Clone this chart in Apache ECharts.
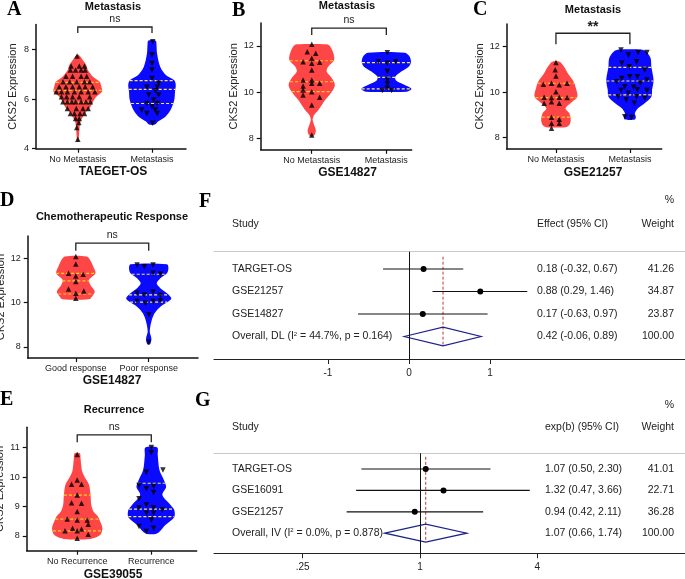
<!DOCTYPE html>
<html>
<head>
<meta charset="utf-8">
<script src="https://cdn.jsdelivr.net/npm/echarts@6/dist/echarts.min.js"></script>
<style>
  html, body { margin: 0; padding: 0; background: #fff; }
  #chart { width: 685px; height: 579px; }
</style>
</head>
<body>
<div id="chart"></div>
<script>
// ---- A: TARGET-OS, metastasis ----
const aCats = ['No Metastasis', 'Metastasis'];
// violin outlines: [expression, half width in category units]
const aRedShape = [[4.28,0.01],[4.42,0.014],[4.82,0.023],[5.09,0.036],[5.29,0.068],[5.49,0.114],[5.69,0.173],[5.89,0.205],[6.09,0.25],[6.29,0.327],[6.49,0.318],[6.70,0.295],[6.90,0.205],[7.17,0.136],[7.37,0.114],[7.57,0.068],[7.77,0.014]];
const aBlueShape = [[4.97,0.04],[5.09,0.08],[5.29,0.18],[5.56,0.25],[5.96,0.3],[6.3,0.31],[6.56,0.32],[6.76,0.3],[6.96,0.19],[7.3,0.11],[7.83,0.068],[8.2,0.06],[8.35,0.05]];
const aRedQuart = [5.87, 6.35, 6.67];
const aBlueQuart = [5.82, 6.39, 6.74];
// points: [offset from category, expression]
const aRedPts = [[0,4.38],[-0.014,4.85],[0.014,5.05],[-0.03,5.22],[0.02,5.22],
  [-0.1,5.42],[-0.045,5.42],[0.03,5.42],[0.09,5.42],
  [-0.14,5.62],[-0.02,5.62],[0.07,5.62],[0.14,5.62],
  [-0.2,5.89],[-0.14,5.89],[-0.08,5.89],[-0.03,5.89],[0.045,5.89],[0.11,5.89],[0.17,5.89],
  [-0.22,6.09],[-0.15,6.09],[-0.07,6.09],[0.02,6.09],[0.16,6.09],
  [-0.29,6.29],[-0.22,6.29],[-0.14,6.29],[-0.045,6.29],[0.045,6.29],[0.14,6.29],[0.23,6.29],
  [-0.25,6.49],[-0.16,6.49],[-0.07,6.49],[0.02,6.49],[0.1,6.49],[0.2,6.49],
  [-0.2,6.7],[-0.11,6.7],[-0.014,6.7],[0.09,6.7],[0.16,6.7],
  [-0.16,6.92],[-0.07,6.92],[0.045,6.92],[0.12,6.92],
  [-0.1,7.17],[-0.03,7.17],[0.045,7.17],[0.1,7.17],
  [-0.09,7.33],[0.02,7.33],[0.09,7.33],[-0.01,7.73]];
const aBluePts = [[0.01,8.31],[0,7.77],[0,7.43],[0,7.17],[0,6.83],[0.09,6.63],[-0.07,6.47],[0.07,6.47],[0.045,6.33],[-0.045,6.16],[0.09,6.16],[0.02,5.96],[-0.07,5.82],[0.07,5.82],[0,5.69],[-0.14,5.56],[0.045,5.56],[-0.07,5.42],[0.07,5.42],[0.01,5.02]];
const aBracket = [8.66, 8.9];

// ---- B: GSE14827, metastasis ----
const bCats = ['No Metastasis', 'Metastasis'];
const bRedShape = [[8.07,0.01],[8.15,0.04],[8.35,0.055],[8.6,0.03],[8.8,0.012],[9.0,0.03],[9.23,0.09],[9.66,0.18],[10.02,0.27],[10.31,0.31],[10.6,0.27],[10.89,0.2],[11.1,0.22],[11.39,0.3],[11.68,0.29],[11.97,0.25],[12.07,0.2]];
const bBlueShape = [[10.02,0.27],[10.1,0.33],[10.17,0.33],[10.35,0.22],[10.5,0.13],[10.67,0.12],[10.89,0.2],[11.1,0.3],[11.3,0.33],[11.55,0.31],[11.71,0.25]];
const bRedQuart = [10.02, 10.45, 11.36];
const bBlueQuart = [10.14, 10.64, 11.28];
const bRedPts = [[0,12.07],[-0.06,11.75],[0.054,11.68],[0,11.47],[-0.116,11.32],[0.107,11.29],[0,11.25],[0,10.96],[-0.116,10.52],[0,10.52],[-0.116,10.27],[0,10.38],[0.107,10.38],[-0.116,10.09],[0,10.02],[-0.116,9.88],[0.107,9.78],[0,9.44],[0,8.14]];
const bBluePts = [[0.013,11.71],[-0.107,11.32],[0.013,11.25],[0.125,11.32],[0.013,10.89],[0.013,10.53],[0.013,10.35],[0.013,10.17],[-0.054,10.07],[0.07,10.07]];
const bBracket = [12.48, 12.77];

// ---- C: GSE21257, metastasis ----
const cCats = ['No Metastasis', 'Metastasis'];
const cRedShape = [[8.46,0.13],[8.56,0.18],[8.78,0.2],[9.07,0.18],[9.29,0.13],[9.58,0.22],[9.8,0.29],[10.17,0.27],[10.46,0.24],[10.83,0.16],[11.12,0.11],[11.34,0.05]];
const cBlueShape = [[8.8,0.067],[8.92,0.08],[9.07,0.067],[9.29,0.11],[9.51,0.2],[9.8,0.29],[10.1,0.3],[10.53,0.32],[11.12,0.29],[11.49,0.28],[11.78,0.22],[11.87,0.15]];
const cRedQuart = [8.9, 9.76, 10.39];
const cBlueQuart = [9.88, 10.49, 11.09];
const cRedPts = [[0,11.3],[-0.01,10.98],[0,10.71],[-0.06,10.39],[-0.17,10.35],[0.045,10.32],[0.15,10.39],[0,10.02],[-0.16,9.78],[-0.06,9.76],[0.045,9.78],[0.15,9.76],[-0.16,9.51],[-0.06,9.58],[0.045,9.51],[-0.06,8.9],[0.045,8.81],[-0.06,8.63],[0.045,8.63],[-0.06,8.41]];
const cBluePts = [[-0.12,11.85],[0.11,11.74],[0.23,11.74],[-0.02,11.63],[0.09,11.34],[-0.11,11.27],[-0.01,11.12],[0.2,10.97],[-0.11,10.6],[0,10.68],[0.1,10.68],[0.23,10.53],[-0.18,10.46],[0.14,10.39],[-0.07,10.24],[0.05,10.21],[0.23,10.07],[-0.12,10.07],[-0.02,9.95],[0.1,10.1],[-0.16,9.8],[0.09,9.8],[0.2,9.73],[-0.05,9.66],[0.06,9.51],[-0.07,8.92],[0.02,8.89]];
const cBracket = [12.1, 12.59];

// ---- D: GSE14827, chemotherapeutic response ----
const dCats = ['Good response', 'Poor response'];
const dRedShape = [[10.15,0.18],[10.27,0.22],[10.5,0.26],[10.8,0.2],[11.02,0.18],[11.32,0.27],[11.62,0.24],[11.9,0.2],[12.08,0.15]];
const dBlueShape = [[8.12,0.02],[8.39,0.036],[8.69,0.014],[9.14,0.036],[9.52,0.08],[9.82,0.16],[10.05,0.27],[10.2,0.31],[10.42,0.25],[10.65,0.16],[10.87,0.11],[11.1,0.16],[11.32,0.25],[11.55,0.27],[11.73,0.25]];
const dRedQuart = [10.39, 10.98, 11.32];
const dBlueQuart = [10.02, 10.35, 11.28];
const dRedPts = [[0,12.08],[0,11.74],[-0.1,11.32],[0.1,11.28],[0,11.2],[0,10.95],[-0.1,10.62],[0.11,10.52],[0,10.42],[0,10.2]];
const dBluePts = [[-0.16,11.7],[-0.06,11.62],[0.06,11.7],[0.06,11.32],[0.16,11.28],[-0.16,10.42],[-0.06,10.35],[0.06,10.47],[0.16,10.32],[-0.16,10.05],[-0.045,9.97],[0.06,10.05],[0.16,10.08],[0,9.44],[0,8.21]];
const dBracket = [12.34, 12.68];

// ---- E: GSE39055, recurrence ----
const eCats = ['No Recurrence', 'Recurrence'];
const eRedShape = [[7.9,0.18],[8.03,0.31],[8.26,0.34],[8.49,0.31],[8.66,0.28],[8.83,0.22],[9.05,0.19],[9.39,0.18],[9.73,0.16],[9.96,0.11],[10.19,0.067],[10.41,0.054],[10.64,0.045],[10.81,0.036]];
const eBlueShape = [[8.07,0.06],[8.14,0.11],[8.37,0.19],[8.64,0.31],[8.88,0.31],[9.05,0.26],[9.39,0.15],[9.66,0.2],[9.9,0.17],[10.24,0.11],[10.75,0.087],[11.0,0.08]];
const eRedQuart = [8.17, 8.57, 9.39];
const eBlueQuart = [8.66, 8.91, 9.79];
const eRedPts = [[0,10.77],[0,9.9],[-0.076,9.76],[0.058,9.76],[0,9.39],[-0.076,9.13],[0.058,9.11],[0,8.83],[-0.135,8.58],[0,8.54],[0.135,8.54],[-0.063,8.26],[0.058,8.24],[0.148,8.4],[-0.166,8.18],[0,8.18],[0.148,8.06],[0,7.92]];
const eBluePts = [[0,11.0],[0,10.83],[-0.067,10.16],[0.157,10.24],[-0.166,9.71],[-0.067,9.6],[0.031,9.68],[0.031,9.48],[-0.166,9.26],[-0.067,9.05],[-0.166,8.96],[0.031,8.96],[0.148,8.88],[-0.067,8.77],[0.031,8.77],[0,8.54],[-0.166,8.32],[0.031,8.26],[-0.067,8.15]];
const eBracket = [11.18, 11.43];

// ---- F: meta-analysis, metastasis (DL) ----
const fStudies = ['TARGET-OS', 'GSE21257', 'GSE14827'];
const fEst = [0.18, 0.88, 0.17];
const fLo = [-0.32, 0.29, -0.63];
const fHi = [0.67, 1.46, 0.97];
const fWeight = [41.26, 34.87, 23.87];
const fOverall = [0.42, -0.06, 0.89];
const fI2 = 44.7, fP = 0.164;
const fTicks = [-1, 0, 1];

// ---- G: meta-analysis, survival (IV) ----
const gStudies = ['TARGET-OS', 'GSE16091', 'GSE21257'];
const gEst = [1.07, 1.32, 0.94];
const gLo = [0.50, 0.47, 0.42];
const gHi = [2.30, 3.66, 2.11];
const gWeight = [41.01, 22.71, 36.28];
const gOverall = [1.07, 0.66, 1.74];
const gI2 = 0.0, gP = 0.878;
const gTicks = [0.25, 1, 4];

const SANS = 'Liberation Sans, Arial, sans-serif';
const RED = '#ff4646';
const BLUE = '#0a0aff';

const grids = [], xAxes = [], yAxes = [], series = [], graphics = [];

function widthAt(shape, v) {
    if (v <= shape[0][0]) return shape[0][1];
    for (let i = 1; i < shape.length; i++) {
        if (v <= shape[i][0]) {
            const t = (v - shape[i - 1][0]) / (shape[i][0] - shape[i - 1][0]);
            return shape[i - 1][1] + t * (shape[i][1] - shape[i - 1][1]);
        }
    }
    return shape[shape.length - 1][1];
}

function violinPanel(p) {
    const idx = grids.length;
    grids.push({left: p.box[0], top: p.box[1], width: p.box[2], height: p.box[3], outerBoundsMode: 'none'});
    xAxes.push({
        type: 'value', gridIndex: idx, min: p.xr[0], max: p.xr[1],
        axisLine: {onZero: false, lineStyle: {color: '#111', width: 1.5}},
        axisTick: {show: true, customValues: [1, 2], length: 4, lineStyle: {color: '#111', width: 1.2}},
        axisLabel: {customValues: [1, 2], formatter: v => p.cats[Math.round(v) - 1], fontSize: 9, color: '#222', margin: 6, fontFamily: SANS},
        splitLine: {show: false}
    });
    yAxes.push({
        type: 'value', gridIndex: idx, min: p.yr[0], max: p.yr[1],
        name: 'CKS2 Expression', nameLocation: 'middle', nameGap: p.nameGap,
        nameTextStyle: {fontSize: 11, color: '#222', fontFamily: SANS},
        axisLine: {show: true, onZero: false, lineStyle: {color: '#111', width: 1.5}},
        axisTick: {show: true, customValues: p.yTicks, length: 4, lineStyle: {color: '#111', width: 1.2}},
        axisLabel: {customValues: p.yTicks, fontSize: 9, color: '#222', margin: 7, fontFamily: SANS},
        splitLine: {show: false}
    });
    const colors = [RED, BLUE];
    const dashColors = ['#ffcf1f', '#ffe95c'];
    series.push({
        type: 'custom', xAxisIndex: idx, yAxisIndex: idx, z: 1, silent: true,
        data: [[1, p.shapes[0][0][0]], [2, p.shapes[1][0][0]]],
        renderItem: function (params, api) {
            const i = params.dataIndex;
            const cat = i + 1;
            const shape = p.shapes[i];
            const right = shape.map(d => api.coord([cat + d[1], d[0]]));
            const left = shape.slice().reverse().map(d => api.coord([cat - d[1], d[0]]));
            const children = [{
                type: 'polygon',
                shape: {points: right.concat(left), smooth: 0.3},
                style: {fill: colors[i]}
            }];
            p.quarts[i].forEach(q => {
                const hw = widthAt(shape, q);
                const a = api.coord([cat - hw, q]);
                const b = api.coord([cat + hw, q]);
                children.push({
                    type: 'line',
                    shape: {x1: a[0], y1: a[1], x2: b[0], y2: b[1]},
                    style: {stroke: dashColors[i], lineWidth: 1.2, lineDash: [3, 2]}
                });
            });
            return {type: 'group', children: children};
        }
    });
    [0, 1].forEach(i => {
        series.push({
            type: 'scatter', xAxisIndex: idx, yAxisIndex: idx, z: 3, silent: true,
            symbol: 'triangle', symbolSize: 5.5, symbolRotate: i ? 180 : 0,
            itemStyle: {color: '#000'},
            data: p.pts[i].map(d => [i + 1 + d[0], d[1]])
        });
    });
    series.push({
        type: 'custom', xAxisIndex: idx, yAxisIndex: idx, z: 4, silent: true,
        data: [[1, 2, p.bracket[0], p.bracket[1]]],
        encode: {x: [0, 1], y: [2, 3]},
        renderItem: function (params, api) {
            const a = api.coord([api.value(0), api.value(2)]);
            const b = api.coord([api.value(0), api.value(3)]);
            const c = api.coord([api.value(1), api.value(3)]);
            const d = api.coord([api.value(1), api.value(2)]);
            const bold = p.sig !== 'ns';
            return {type: 'group', children: [
                {type: 'polyline', shape: {points: [a, b, c, d]}, style: {stroke: '#222', lineWidth: 1.3, fill: null}},
                {type: 'text', x: (b[0] + c[0]) / 2, y: b[1] - (bold ? 6 : 8),
                 style: {text: p.sig, fontSize: bold ? 14 : 10.5, fontWeight: bold ? 'bold' : 'normal', fontFamily: SANS, fill: '#222', align: 'center', verticalAlign: 'middle'}}
            ]};
        }
    });
    graphics.push({type: 'text', x: p.title[1], y: p.title[2],
        style: {text: p.title[0], font: 'bold 11px ' + SANS, fill: '#111', align: 'center', verticalAlign: 'middle'}});
    graphics.push({type: 'text', x: p.setName[1], y: p.setName[2],
        style: {text: p.setName[0], font: 'bold 12px ' + SANS, fill: '#111', align: 'center', verticalAlign: 'middle'}});
}

violinPanel({box: [36, 24.5, 150, 124.2], xr: [0.437, 2.458], yr: [4, 9], yTicks: [4, 6, 8], nameGap: 18,
    cats: aCats, shapes: [aRedShape, aBlueShape], quarts: [aRedQuart, aBlueQuart], pts: [aRedPts, aBluePts],
    bracket: aBracket, sig: 'ns', title: ['Metastasis', 113, 7], setName: ['TAEGET-OS', 113, 172]});
violinPanel({box: [260.7, 22.9, 151, 126.9], xr: [0.316, 2.34], yr: [7.5, 13], yTicks: [8, 10, 12], nameGap: 17.5,
    cats: bCats, shapes: [bRedShape, bBlueShape], quarts: [bRedQuart, bBlueQuart], pts: [bRedPts, bBluePts],
    bracket: bBracket, sig: 'ns', title: ['Metastasis', 347, 5.5], setName: ['GSE14827', 347.5, 172.7]});
violinPanel({box: [506.7, 23.9, 155, 125.1], xr: [0.334, 2.43], yr: [7.5, 13], yTicks: [8, 10, 12], nameGap: 16,
    cats: cCats, shapes: [cRedShape, cBlueShape], quarts: [cRedQuart, cBlueQuart], pts: [cRedPts, cBluePts],
    bracket: cBracket, sig: '**', title: ['Metastasis', 593, 10], setName: ['GSE21257', 593, 173]});
violinPanel({box: [27.7, 236.1, 170.3, 122], xr: [0.34, 2.676], yr: [7.5, 13], yTicks: [8, 10, 12], nameGap: 15.5,
    cats: dCats, shapes: [dRedShape, dBlueShape], quarts: [dRedQuart, dBlueQuart], pts: [dRedPts, dBluePts],
    bracket: dBracket, sig: 'ns', title: ['Chemotherapeutic Response', 112, 217.3], setName: ['GSE14827', 112, 381]});
violinPanel({box: [26.7, 427.3, 170, 123.4], xr: [0.318, 2.613], yr: [7.5, 11.69], yTicks: [8, 9, 10, 11], nameGap: 14.5,
    cats: eCats, shapes: [eRedShape, eBlueShape], quarts: [eRedQuart, eBlueQuart], pts: [eRedPts, eBluePts],
    bracket: eBracket, sig: 'ns', title: ['Recurrence', 114, 410], setName: ['GSE39055', 113, 575]});

function fmt(e, l, h) {
    return e.toFixed(2) + ' (' + l.toFixed(2) + ', ' + h.toFixed(2) + ')';
}

function forestPanel(f) {
    const gi = grids.length;
    const xi = xAxes.length;
    const yi = yAxes.length;
    grids.push({left: f.box[0], top: f.box[1], width: f.box[2], height: f.box[3], outerBoundsMode: 'none'});
    xAxes.push({
        type: f.log ? 'log' : 'value', logBase: 4, gridIndex: gi, min: f.xr[0], max: f.xr[1], position: 'bottom',
        axisLine: {onZero: false, lineStyle: {color: '#222', width: 1}},
        axisTick: {show: true, customValues: f.ticks, length: 5, lineStyle: {color: '#222'}},
        axisLabel: {customValues: f.ticks, formatter: f.tickFmt, fontSize: 10, color: '#222', margin: 9, fontFamily: SANS},
        splitLine: {show: false}, minorTick: {show: false}
    });
    xAxes.push({
        type: 'value', gridIndex: gi, min: 0, max: 1, position: 'top',
        axisLine: {onZero: false, lineStyle: {color: '#c8c8c8', width: 1}},
        axisTick: {show: false}, axisLabel: {show: false}, splitLine: {show: false}
    });
    yAxes.push({type: 'value', gridIndex: gi, inverse: true, min: f.yr[0], max: f.yr[1], show: false, splitLine: {show: false}});

    const rows = f.est.map((e, i) => [e, i + 1, f.lo[i], f.hi[i]]);
    const nRows = rows.length;
    series.push({
        type: 'custom', xAxisIndex: xi, yAxisIndex: yi, z: 3, silent: true,
        data: rows, encode: {x: [0, 2, 3], y: 1},
        renderItem: function (params, api) {
            const row = api.value(1);
            const a = api.coord([api.value(2), row]);
            const b = api.coord([api.value(3), row]);
            const c = api.coord([api.value(0), row]);
            return {type: 'group', children: [
                {type: 'line', shape: {x1: a[0], y1: a[1], x2: b[0], y2: b[1]}, style: {stroke: '#111', lineWidth: 1.2}},
                {type: 'circle', shape: {cx: c[0], cy: c[1], r: 3}, style: {fill: '#000'}}
            ]};
        },
        markLine: {
            silent: true, symbol: 'none', label: {show: false},
            lineStyle: {color: '#111', type: 'solid', width: 1},
            data: [{xAxis: f.nullLine}]
        }
    });
    series.push({
        type: 'line', xAxisIndex: xi, yAxisIndex: yi, z: 2, silent: true, symbol: 'none',
        lineStyle: {color: '#c0392b', width: 1, type: [3, 2]},
        data: [[f.overall[0], f.refSpan[0]], [f.overall[0], f.refSpan[1]]]
    });
    series.push({
        type: 'custom', xAxisIndex: xi, yAxisIndex: yi, z: 4, silent: true,
        data: [[f.overall[0], nRows + 1, f.overall[1], f.overall[2]]], encode: {x: [0, 2, 3], y: 1},
        renderItem: function (params, api) {
            const row = api.value(1);
            const pts = [
                api.coord([api.value(2), row]),
                api.coord([api.value(0), row - 0.42]),
                api.coord([api.value(3), row]),
                api.coord([api.value(0), row + 0.42])
            ];
            return {type: 'polygon', shape: {points: pts}, style: {fill: 'none', stroke: '#1c2388', lineWidth: 1.2}};
        }
    });
    const names = f.studies.concat([f.overallName]);
    const effects = f.est.map((e, i) => fmt(e, f.lo[i], f.hi[i])).concat([fmt(f.overall[0], f.overall[1], f.overall[2])]);
    const weights = f.weight.concat([100]).map(w => w.toFixed(2));
    series.push({
        type: 'custom', xAxisIndex: xi, yAxisIndex: yi, z: 5, silent: true,
        data: names.map((n, i) => [f.nullLine, i + 1]),
        renderItem: function (params, api) {
            const i = params.dataIndex;
            const y = api.coord([api.value(0), api.value(1)])[1];
            const base = {fontSize: 10.5, fontFamily: SANS, fill: '#222', verticalAlign: 'middle'};
            return {type: 'group', children: [
                {type: 'text', x: f.cols[0], y: y, style: Object.assign({text: names[i], align: 'left',
                    rich: {s: {fontSize: 6, fontFamily: SANS, fill: '#222', verticalAlign: 'top'}}}, base)},
                {type: 'text', x: f.cols[1], y: y, style: Object.assign({text: effects[i], align: 'left'}, base)},
                {type: 'text', x: f.cols[2], y: y, style: Object.assign({text: weights[i], align: 'right'}, base)}
            ]};
        }
    });
    const head = {fontSize: 10.5, fontFamily: SANS, fill: '#222', verticalAlign: 'middle'};
    graphics.push({type: 'text', x: f.cols[2], y: f.headY[0], style: Object.assign({text: '%', align: 'right'}, head)});
    graphics.push({type: 'text', x: f.cols[0], y: f.headY[1], style: Object.assign({text: 'Study', align: 'left'}, head)});
    graphics.push({type: 'text', x: f.cols[1], y: f.headY[1], style: Object.assign({text: f.effectHead, align: 'left'}, head)});
    graphics.push({type: 'text', x: f.cols[2], y: f.headY[1], style: Object.assign({text: 'Weight', align: 'right'}, head)});
}

forestPanel({box: [214, 251.7, 471, 107.3], xr: [-2.407, 3.407], yr: [0.23, 5], log: false,
    ticks: fTicks, tickFmt: v => String(v), nullLine: 0, refSpan: [0.45, 4.42],
    studies: fStudies, est: fEst, lo: fLo, hi: fHi, weight: fWeight, overall: fOverall,
    overallName: 'Overall, DL (I{s|2} = ' + fI2.toFixed(1) + '%, p = ' + fP.toFixed(3) + ')',
    cols: [232, 537, 674], headY: [200, 224], effectHead: 'Effect (95% CI)'});
forestPanel({box: [214, 453.3, 471, 100], xr: [0.0876, 22.93], yr: [0.266, 4.94], log: true,
    ticks: gTicks, tickFmt: v => (v < 1 ? String(v).replace(/^0/, '') : String(v)), nullLine: 1, refSpan: [0.43, 4.41],
    studies: gStudies, est: gEst, lo: gLo, hi: gHi, weight: gWeight, overall: gOverall,
    overallName: 'Overall, IV (I{s|2} = ' + gI2.toFixed(1) + '%, p = ' + gP.toFixed(3) + ')',
    cols: [232, 545, 674], headY: [405, 427], effectHead: 'exp(b) (95% CI)'});

// panel letters
[['A', 7, 10], ['B', 232, 10.5], ['C', 473, 10], ['D', 0, 200.8], ['E', 0, 400], ['F', 199, 201.7], ['G', 195, 401]].forEach(l => {
    graphics.push({type: 'text', x: l[1], y: l[2],
        style: {text: l[0], font: 'bold 20px Liberation Serif, Times New Roman, serif', fill: '#000', align: 'left', verticalAlign: 'middle'}});
});

const chart = echarts.init(document.getElementById('chart'));
chart.setOption({
    backgroundColor: '#ffffff',
    animation: false,
    grid: grids,
    xAxis: xAxes,
    yAxis: yAxes,
    series: series,
    graphic: graphics
});
window.onresize = chart.resize;
</script>
</body>
</html>
